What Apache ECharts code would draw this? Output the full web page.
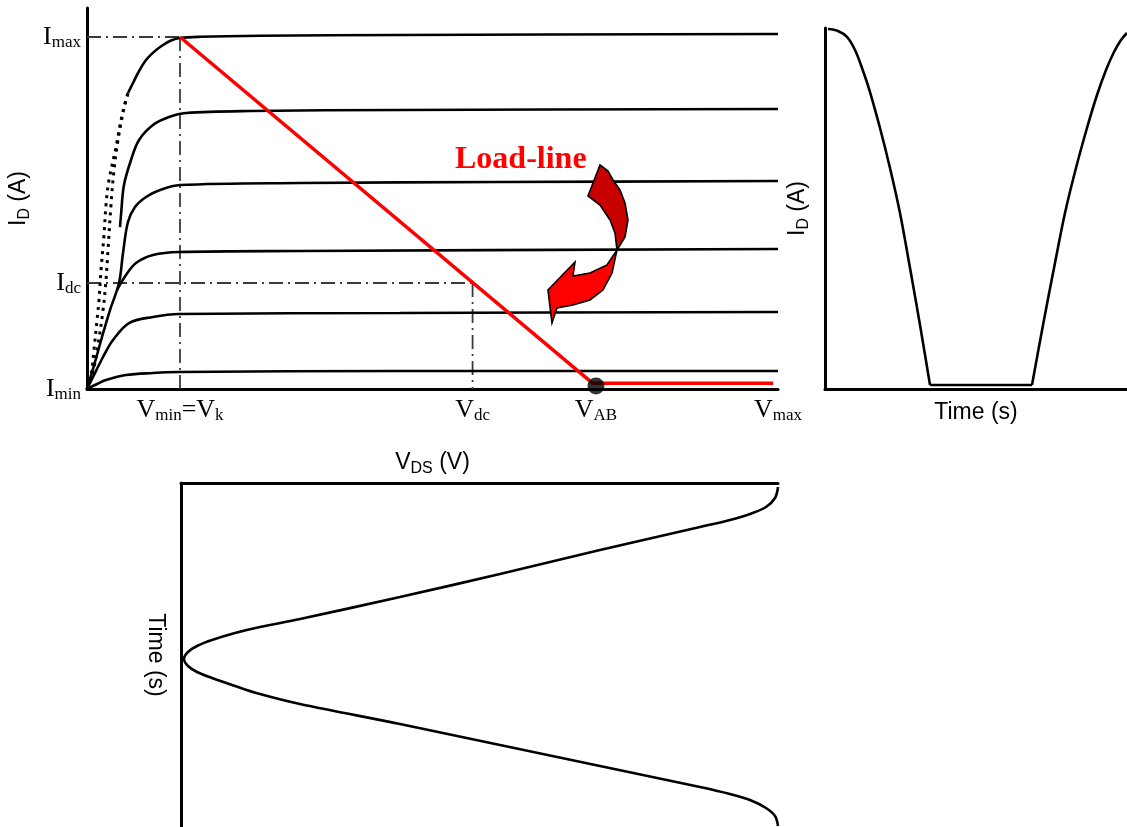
<!DOCTYPE html>
<html>
<head>
<meta charset="utf-8">
<script src="https://cdn.jsdelivr.net/npm/echarts@6/dist/echarts.min.js"></script>
<style>
html,body{margin:0;padding:0;background:#fff;}
#chart{width:1127px;height:827px;}
</style>
</head>
<body>
<div id="chart"></div>
<script>
// ---------------- DATA (arbitrary units 0..100) ----------------
// Main panel: I_D versus V_DS output characteristics
const curve1Solid = [[5.93,77.69],[6.66,80.31],[7.38,82.94],[8.54,86.35],[9.84,88.71],[11.0,90.29],[12.16,91.47],[13.46,92.13],[16.35,92.44],[25.04,92.7],[45.3,92.91],[100,93.18]];
const curve1DotA  = [[0,0],[0.58,3.67],[1.01,10.24],[1.45,18.11],[1.74,23.36],[2.03,31.23],[2.46,40.42],[2.75,48.29],[3.18,54.86],[4.2,63.52],[4.78,69.29],[5.35,74.02],[5.93,77.69]];
const curve1DotB  = [[0,0],[0.87,4.46],[1.59,11.55],[2.32,20.73],[2.75,28.61],[3.04,36.48],[3.47,48.29],[3.91,57.48],[4.49,65.35],[5.21,72.44],[5.93,77.69]];
const curve2 = [[4.78,42.5],[4.92,45.67],[5.35,53.54],[6.37,60.10],[7.53,65.35],[9.55,69.29],[11.87,71.39],[14.33,72.44],[23.59,72.97],[45.3,73.23],[100,73.49]];
const curve3 = [[0,0],[1.16,7.09],[2.17,13.65],[3.33,20.73],[4.63,27.82],[5.21,35.70],[5.93,43.83],[6.95,47.77],[8.54,50.39],[10.56,52.23],[13.46,53.54],[30.82,54.07],[59.77,54.33],[100,54.59]];
const curve4 = [[4.34,25.98],[5.64,29.92],[7.09,33.07],[9.55,35.17],[13.31,35.96],[30.82,36.22],[100,36.75]];
const curve5 = [[0,0],[0.87,3.15],[2.32,8.40],[3.76,12.86],[6.08,17.32],[9.55,18.90],[13.31,19.69],[45.3,19.95],[100,20.21]];
const curve6 = [[0,0],[1.45,1.31],[2.75,2.36],[5.64,3.67],[9.55,4.20],[13.31,4.46],[45.3,4.72],[100,4.72]];

// operating points
const Vk = 13.46, Vdc = 55.8, Vab = 73.66, Vmax = 100;
const Imax = 92.39, Idc = 27.82, Imin = 0;
const loadLine = [[Vk, Imax],[73.2, 1.5],[99.3, 1.5]];
const abPoint = [[Vab, 0.79]];

// tick labels (underscore braces = subscript)
const xTickValues = [Vk, Vdc, Vab, Vmax];
const xTickLabels = ['V_{min}=V_{k}', 'V_{dc}', 'V_{AB}', 'V_{max}'];
const yTickValues = [Imin, Idc, Imax];
const yTickLabels = ['I_{min}', 'I_{dc}', 'I_{max}'];

// curved "Load-line" arrow outline (data units of the main panel)
const arrowUpper = [[74.24,58.79],[75.40,57.22],[76.12,54.86],[77.13,52.23],[77.86,48.82],[78.29,44.36],[77.86,39.90],[76.70,36.48],[76.56,38.58],[76.41,40.94],[75.69,44.36],[74.24,48.29],[72.50,50.66]];
const arrowLower = [[76.70,36.48],[75.25,32.55],[72.79,30.45],[70.33,29.66],[70.62,33.33],[66.71,25.98],[67.29,17.32],[68.02,21.26],[70.33,22.05],[72.79,23.36],[74.67,25.98],[75.98,30.45]];
const loadLineText = 'Load-line';

// Right panel: I_D versus time
const idFall = [[0.99,99.72],[4.30,99.17],[7.28,97.51],[9.93,93.91],[12.25,88.92],[14.90,82.27],[18.21,72.30],[21.52,61.22],[24.83,48.75],[28.15,33.52],[31.46,17.73],[34.77,1.11]];
const idFlat = [[34.77,1.11],[68.54,1.11]];
const idRise = [[68.54,1.11],[72.19,17.73],[75.83,33.52],[79.47,48.75],[83.11,61.22],[86.75,72.30],[90.07,81.44],[93.05,88.37],[95.70,93.35],[98.01,96.68],[100,98.61]];

// Bottom panel: V_DS versus time (time runs downward)
const vdsTime = [[100,1.16],[99.5,4.36],[97.99,6.98],[95.31,9.01],[91.96,10.76],[86.93,12.79],[70.18,19.48],[53.43,26.45],[36.68,33.14],[19.93,39.53],[13.23,41.86],[9.05,43.60],[5.19,45.64],[2.68,47.38],[1.17,49.13],[0.5,51.16],[1.17,53.20],[2.68,54.94],[5.19,56.69],[9.05,59.01],[13.23,61.34],[19.93,64.24],[36.68,70.06],[53.43,76.16],[70.18,82.27],[86.93,88.37],[91.96,90.41],[95.31,92.15],[97.99,94.48],[99.5,96.80],[100,99.71]];

// ---------------- CHART ----------------
function toRich(s, m, sub) {
  const parts = s.split(/_\{([^}]*)\}/);
  let out = '';
  parts.forEach((p, i) => {
    if (!p) return;
    out += '{' + (i % 2 ? sub : m) + '|' + p + '}';
  });
  return out;
}
const serifM = {fontFamily:'Liberation Serif', fontSize:26, color:'#000', lineHeight:28};
const serifS = {fontFamily:'Liberation Serif', fontSize:17, color:'#000', lineHeight:14, verticalAlign:'bottom'};
const sansM = {fontFamily:'Liberation Sans', fontSize:23, color:'#000', lineHeight:28};
const sansS = {fontFamily:'Liberation Sans', fontSize:16, color:'#000', lineHeight:14, verticalAlign:'bottom'};

const axisLineStyle = {show:true, onZero:false, lineStyle:{color:'#000', width:3}};
const blackLine = {color:'#000', width:2.6};
const dashDot = {color:'#3a3a3a', width:1.8, type:[14,5,2,5]};

function lineSeries(data, style, extra) {
  return Object.assign({
    type:'line', data:data, symbol:'none', smooth:0.35, silent:true,
    lineStyle:style, xAxisIndex:0, yAxisIndex:0, z:3
  }, extra || {});
}

const chart = echarts.init(document.getElementById('chart'), null, {renderer:'canvas'});
const option = {
  animation:false,
  backgroundColor:'#fff',
  grid:[
    {left:87, right:349, top:8, bottom:438, outerBoundsMode:'none'},
    {left:825, right:0, top:28, bottom:438, outerBoundsMode:'none'},
    {left:181, right:349, top:483, bottom:0, outerBoundsMode:'none'}
  ],
  xAxis:[
    {gridIndex:0, type:'value', min:0, max:100, axisLine:axisLineStyle, axisTick:{show:false}, splitLine:{show:false},
     axisLabel:{customValues:xTickValues, margin:7, formatter:(v)=>toRich(xTickLabels[xTickValues.indexOf(v)] || '', 'm', 's'), rich:{m:serifM, s:serifS}},
     name:toRich('V_{DS} (V)','m','s'), nameLocation:'middle', nameGap:60, nameTextStyle:{rich:{m:sansM, s:sansS}}},
    {gridIndex:1, type:'value', min:0, max:100, axisLine:axisLineStyle, axisTick:{show:false}, splitLine:{show:false}, axisLabel:{show:false},
     name:'Time (s)', nameLocation:'middle', nameGap:12, nameTextStyle:{fontFamily:'Liberation Sans', fontSize:23, color:'#000', verticalAlign:'top'}},
    {gridIndex:2, type:'value', min:0, max:100, position:'top', axisLine:axisLineStyle, axisTick:{show:false}, splitLine:{show:false}, axisLabel:{show:false}}
  ],
  yAxis:[
    {gridIndex:0, type:'value', min:0, max:100, axisLine:axisLineStyle, axisTick:{show:false}, splitLine:{show:false},
     axisLabel:{customValues:yTickValues, margin:6, formatter:(v)=>toRich(yTickLabels[yTickValues.indexOf(v)] || '', 'm', 's'), rich:{m:serifM, s:serifS}},
     name:toRich('I_{D} (A)','m','s'), nameLocation:'middle', nameGap:52, nameTextStyle:{rich:{m:sansM, s:sansS}}},
    {gridIndex:1, type:'value', min:0, max:100, axisLine:axisLineStyle, axisTick:{show:false}, splitLine:{show:false}, axisLabel:{show:false},
     name:toRich('I_{D} (A)','m','s'), nameLocation:'middle', nameGap:13, nameTextStyle:{rich:{m:sansM, s:sansS}}},
    {gridIndex:2, type:'value', min:0, max:100, inverse:true, axisLine:axisLineStyle, axisTick:{show:false}, splitLine:{show:false}, axisLabel:{show:false},
     name:'Time (s)', nameLocation:'middle', nameGap:14, nameRotate:-90, nameTextStyle:{fontFamily:'Liberation Sans', fontSize:23, color:'#000'}}
  ],
  graphic:[
    {type:'text', left:455, top:144, z:10, style:{text:loadLineText, fontFamily:'Liberation Serif', fontWeight:'bold', fontSize:32, fill:'#ff0000'}}
  ],
  series:[
    // guide lines
    lineSeries([[0,Imax],[Vk,Imax]], dashDot, {smooth:false, z:2}),
    lineSeries([[Vk,Imax],[Vk,-1.2]], dashDot, {smooth:false, z:2, clip:false}),
    lineSeries([[0,Idc],[Vdc,Idc]], dashDot, {smooth:false, z:2}),
    lineSeries([[Vdc,Idc],[Vdc,0]], dashDot, {smooth:false, z:2}),
    // characteristic curves
    lineSeries(curve1DotA, {color:'#000', width:3, type:[3,5]}),
    lineSeries(curve1DotB, {color:'#000', width:3, type:[3,5]}),
    lineSeries(curve1Solid, blackLine),
    lineSeries(curve2, blackLine),
    lineSeries(curve3, blackLine),
    lineSeries(curve4, blackLine),
    lineSeries(curve5, blackLine),
    lineSeries(curve6, blackLine),
    // load line
    lineSeries(loadLine, {color:'#ff0000', width:3.5}, {smooth:false, z:5}),
    {type:'scatter', data:abPoint, symbol:'circle', symbolSize:17, itemStyle:{color:'#000'}, xAxisIndex:0, yAxisIndex:0, z:6, silent:true},
    // curved arrow
    {type:'custom', xAxisIndex:0, yAxisIndex:0, z:8, silent:true, clip:false,
     data:[[75,45],[71,27]],
     renderItem:function(params, api){
       const src = params.dataIndex === 0 ? arrowUpper : arrowLower;
       const pts = src.map(p => api.coord(p));
       return {type:'polygon', shape:{points:pts},
               style:{fill: params.dataIndex === 0 ? '#c80000' : '#ff0000', stroke:'#000', lineWidth:1.6, lineJoin:'miter'}};
     }},
    // right panel
    lineSeries(idFall, blackLine, {xAxisIndex:1, yAxisIndex:1}),
    lineSeries(idFlat, blackLine, {xAxisIndex:1, yAxisIndex:1, smooth:false}),
    lineSeries(idRise, blackLine, {xAxisIndex:1, yAxisIndex:1}),
    // bottom panel
    lineSeries(vdsTime, blackLine, {xAxisIndex:2, yAxisIndex:2})
  ]
};
chart.setOption(option);
</script>
</body>
</html>
